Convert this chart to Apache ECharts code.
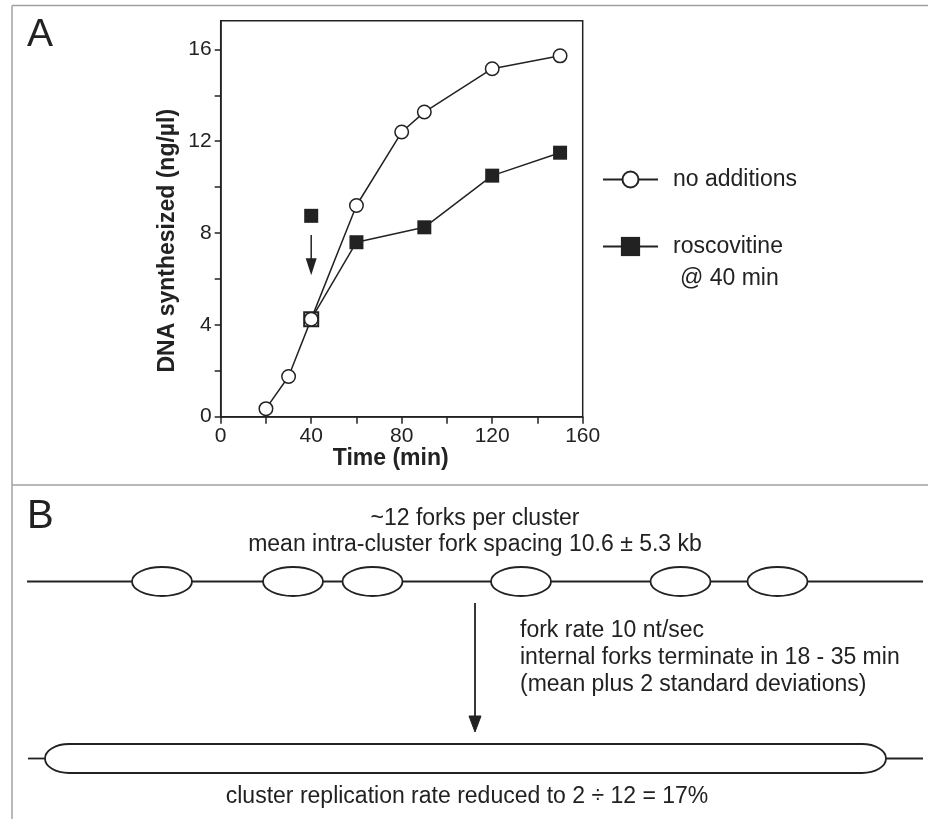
<!DOCTYPE html>
<html><head><meta charset="utf-8">
<script src="https://cdn.jsdelivr.net/npm/echarts@6/dist/echarts.min.js"></script>
<style>html,body{margin:0;padding:0;background:#fff}#chart{width:928px;height:819px}</style>
</head><body><div id="chart"></div>
<script>
// ---- data ----
const timeNoAdd = [20, 30, 40, 60, 80, 90, 120, 150];
const dnaNoAdd  = [0.35, 1.75, 4.25, 9.2, 12.4, 13.27, 15.16, 15.72];
const timeRosc  = [40, 60, 90, 120, 150];
const dnaRosc   = [4.25, 7.6, 8.25, 10.5, 11.5];
const addPoint  = [40, 8.75];          // roscovitine addition marker
const arrowShaft = [[40, 7.92], [40, 6.7]];
const arrowHead  = [40, 6.53];
const xTicks  = [0, 20, 40, 60, 80, 100, 120, 140, 160];
const xLabels = [0, 40, 80, 120, 160];
const yTicks  = [0, 2, 4, 6, 8, 10, 12, 14, 16];
const yLabels = [0, 4, 8, 12, 16];
const seriesNames = ['no additions', 'roscovitine'];

const FONT = '"Liberation Sans", Arial, Helvetica, sans-serif';
const INK = '#222';
const GRAY = '#a0a0a0';

const zip = (xs, ys) => xs.map((x, i) => [x, ys[i]]);

const roscData = zip(timeRosc, dnaRosc).map((p, i) => i === 0
  ? { value: p, itemStyle: { color: '#fff', borderColor: INK, borderWidth: 2 } }
  : p);

function txt(text, x, y, size, align, weight) {
  return { type: 'text', x: x, y: y, silent: true,
    style: { text: text, x: 0, y: 0, fill: INK, font: (weight || 'normal') + ' ' + size + 'px ' + FONT,
      fontSize: size, fontFamily: FONT, fontWeight: weight || 'normal',
      align: align, textAlign: align, verticalAlign: 'middle', textVerticalAlign: 'middle' } };
}
function ln(x1, y1, x2, y2, color, w) {
  return { type: 'line', silent: true, shape: { x1, y1, x2, y2 }, style: { stroke: color, lineWidth: w } };
}

const graphics = [];
// frame
graphics.push(ln(12, 5.5, 928, 5.5, GRAY, 1.5));
graphics.push(ln(12, 5.5, 12, 819, GRAY, 1.5));
graphics.push(ln(12, 485, 928, 485, GRAY, 1.5));
// panel labels
graphics.push(txt('A', 27, 35, 39, 'left'));
graphics.push(txt('B', 27, 517, 40, 'left'));
// legend second line
graphics.push(txt('@ 40 min', 680, 279, 23, 'left'));
// panel B texts
graphics.push(txt('~12 forks per cluster', 475, 518.5, 23, 'center'));
graphics.push(txt('mean intra-cluster fork spacing 10.6 \u00b1 5.3 kb', 475, 545, 23, 'center'));
graphics.push(txt('fork rate 10 nt/sec', 520, 631, 23, 'left'));
graphics.push(txt('internal forks terminate in 18 - 35 min', 520, 658, 23, 'left'));
graphics.push(txt('(mean plus 2 standard deviations)', 520, 685, 23, 'left'));
graphics.push(txt('cluster replication rate reduced to 2 \u00f7 12 = 17%', 467, 797, 23, 'center'));
// DNA with forks
graphics.push(ln(27, 581.5, 923, 581.5, INK, 1.8));
[162, 293, 372.5, 521, 680.5, 777.5].forEach(cx => {
  graphics.push({ type: 'ellipse', silent: true, shape: { cx: cx, cy: 581.5, rx: 30, ry: 14.5 },
    style: { fill: '#fff', stroke: INK, lineWidth: 1.8 } });
});
// arrow
graphics.push(ln(475, 603, 475, 720, INK, 1.8));
graphics.push({ type: 'polygon', silent: true, shape: { points: [[469, 716], [481, 716], [475, 732]] },
  style: { fill: INK, stroke: INK, lineWidth: 1 } });
// capsule
graphics.push(ln(28, 758.5, 50, 758.5, INK, 1.8));
graphics.push(ln(880, 758.5, 923, 758.5, INK, 1.8));
graphics.push({ type: 'ellipse', silent: true, shape: { cx: 69, cy: 758.5, rx: 24, ry: 14.5 },
  style: { fill: '#fff', stroke: INK, lineWidth: 1.8 } });
graphics.push({ type: 'ellipse', silent: true, shape: { cx: 862, cy: 758.5, rx: 24, ry: 14.5 },
  style: { fill: '#fff', stroke: INK, lineWidth: 1.8 } });
graphics.push({ type: 'rect', silent: true, shape: { x: 69, y: 743, width: 793, height: 31 },
  style: { fill: '#fff' } });
graphics.push(ln(69, 744, 862, 744, INK, 1.8));
graphics.push(ln(69, 773, 862, 773, INK, 1.8));

const chart = echarts.init(document.getElementById('chart'), null, { renderer: 'canvas' });
chart.setOption({
  animation: false,
  backgroundColor: '#fff',
  textStyle: { fontFamily: FONT, color: INK },
  grid: { left: 220.7, right: 345.3, top: 20.7, bottom: 402.3, show: true,
    borderColor: INK, borderWidth: 1.5, backgroundColor: 'transparent' },
  xAxis: {
    type: 'value', min: 0, max: 160, interval: 20,
    name: 'Time (min)', nameLocation: 'middle', nameGap: 20,
    nameTextStyle: { fontSize: 23, fontWeight: 'bold', color: INK, fontFamily: FONT, padding: [0, 22, 0, 0] },
    axisLine: { show: true, lineStyle: { color: INK, width: 1.5 } },
    axisTick: { show: true, length: 7, lineStyle: { color: INK, width: 1.5 }, customValues: xTicks },
    axisLabel: { fontSize: 21, color: INK, margin: 9, fontFamily: FONT, customValues: xLabels },
    splitLine: { show: false }
  },
  yAxis: {
    type: 'value', min: 0, max: 17.25,
    name: 'DNA synthesized (ng/\u00b5l)', nameLocation: 'middle', nameGap: 42,
    nameTextStyle: { fontSize: 23, fontWeight: 'bold', color: INK, fontFamily: FONT, padding: [0, 44, 0, 0] },
    axisLine: { show: true, lineStyle: { color: INK, width: 1.5 } },
    axisTick: { show: true, length: 6, lineStyle: { color: INK, width: 1.5 }, customValues: yTicks },
    axisLabel: { fontSize: 21, color: INK, margin: 9, fontFamily: FONT, customValues: yLabels },
    splitLine: { show: false }
  },
  legend: [
    { data: [seriesNames[0]], left: 602, top: 168, padding: 0, itemWidth: 55, itemHeight: 20,
      textStyle: { fontSize: 23, color: INK, fontFamily: FONT, padding: [0, 0, 0, 10] }, selectedMode: false },
    { data: [seriesNames[1]], left: 602, top: 235, padding: 0, itemWidth: 55, itemHeight: 24,
      textStyle: { fontSize: 23, color: INK, fontFamily: FONT, padding: [0, 0, 0, 10] }, selectedMode: false }
  ],
  series: [
    { name: seriesNames[1], type: 'line', data: roscData, symbol: 'rect', symbolSize: 14,
      lineStyle: { color: INK, width: 1.5 }, itemStyle: { color: INK, borderColor: INK, borderWidth: 0 }, z: 2 },
    { name: seriesNames[0], type: 'line', data: zip(timeNoAdd, dnaNoAdd), symbol: 'circle', symbolSize: 13.5,
      lineStyle: { color: INK, width: 1.5 }, itemStyle: { color: '#fff', borderColor: INK, borderWidth: 1.5 }, z: 3 },
    { name: 'addition', type: 'scatter', data: [addPoint], symbol: 'rect', symbolSize: 14,
      itemStyle: { color: INK, opacity: 1 }, z: 3 },
    { name: 'arrow', type: 'line', data: arrowShaft, showSymbol: false, symbol: 'none',
      lineStyle: { color: INK, width: 1.5 }, z: 3 },
    { name: 'arrowhead', type: 'scatter', data: [arrowHead], symbol: 'triangle', symbolRotate: 180,
      symbolSize: [11, 17], itemStyle: { color: INK, opacity: 1 }, z: 3 }
  ],
  graphic: graphics
});
</script></body></html>
